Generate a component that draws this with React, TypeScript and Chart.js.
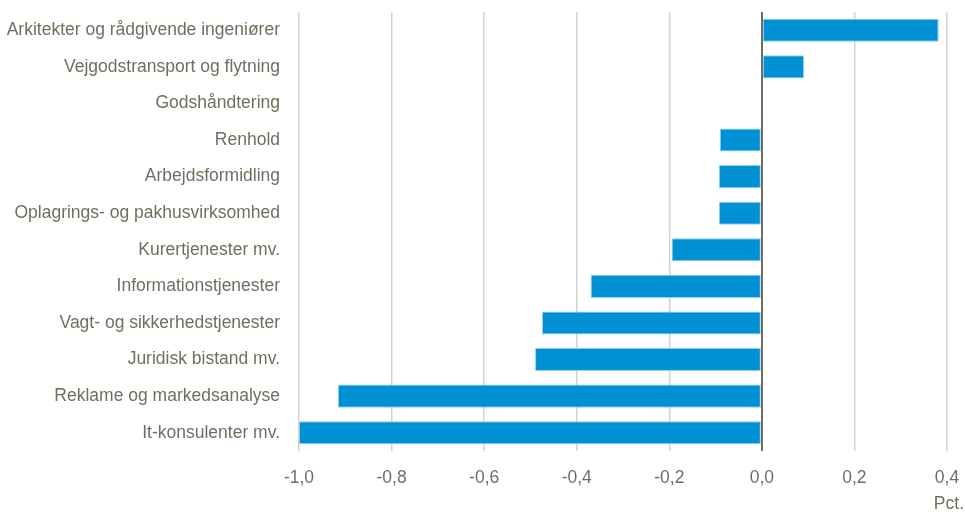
import React, { useEffect, useRef } from "react";
import { Chart, registerables } from "chart.js";

Chart.register(...registerables);

const categories: string[] = [
  "Arkitekter og rådgivende ingeniører",
  "Vejgodstransport og flytning",
  "Godshåndtering",
  "Renhold",
  "Arbejdsformidling",
  "Oplagrings- og pakhusvirksomhed",
  "Kurertjenester mv.",
  "Informationstjenester",
  "Vagt- og sikkerhedstjenester",
  "Juridisk bistand mv.",
  "Reklame og markedsanalyse",
  "It-konsulenter mv.",
];

const values: number[] = [0.382, 0.091, 0, -0.091, -0.093, -0.093, -0.195, -0.37, -0.475, -0.49, -0.916, -1.0];

const xTicks: number[] = [-1.0, -0.8, -0.6, -0.4, -0.2, 0.0, 0.2, 0.4];
const unitLabel = "Pct.";

const TEXT = "#6f6f60";
const FONT = "'Liberation Sans', Arial, sans-serif";

export default function App() {
  const ref = useRef<HTMLCanvasElement | null>(null);

  useEffect(() => {
    const canvas = ref.current;
    if (!canvas) return;

    const unitPlugin = {
      id: "unitLabel",
      afterDraw(chart: any) {
        const ctx = chart.ctx;
        ctx.save();
        ctx.font = `17.5px ${FONT}`;
        ctx.fillStyle = TEXT;
        ctx.textAlign = "right";
        ctx.textBaseline = "middle";
        ctx.fillText(unitLabel, 964, 504);
        ctx.restore();
      },
    };

    const chart = new Chart(canvas, {
      type: "bar",
      data: {
        labels: categories,
        datasets: [
          {
            data: values,
            backgroundColor: "#0091d5",
            borderColor: "#8fd0f0",
            borderWidth: 1,
            borderSkipped: false,
            barPercentage: 0.63,
            categoryPercentage: 1,
          },
        ],
      },
      options: {
        indexAxis: "y",
        animation: false,
        responsive: false,
        maintainAspectRatio: false,
        layout: { padding: { top: 12, right: 18, left: 0, bottom: 0 } },
        plugins: {
          legend: { display: false },
          tooltip: { enabled: false },
        },
        scales: {
          x: {
            type: "linear",
            min: -1.0,
            max: 0.4,
            afterBuildTicks: (scale: any) => {
              scale.ticks = xTicks.map((v) => ({ value: v }));
            },
            afterFit: (scale: any) => {
              scale.height = 61;
              scale.paddingLeft = 0;
              scale.paddingRight = 0;
            },
            border: { display: false },
            grid: {
              drawTicks: false,
              color: (ctx: any) => (ctx.tick && ctx.tick.value === 0 ? "#6e6e5e" : "#d3d3cb"),
              lineWidth: (ctx: any) => (ctx.tick && ctx.tick.value === 0 ? 2 : 1.5),
            },
            ticks: {
              padding: 17,
              color: TEXT,
              font: { family: FONT, size: 17.5 },
              callback: (v: any) => Number(v).toFixed(1).replace(".", ","),
            },
          },
          y: {
            afterFit: (scale: any) => {
              scale.width = 299;
              scale.paddingTop = 0;
              scale.paddingBottom = 0;
            },
            border: { display: false },
            grid: { display: false, drawTicks: false },
            ticks: {
              padding: 19,
              color: TEXT,
              font: { family: FONT, size: 17.5 },
            },
          },
        },
      },
      plugins: [unitPlugin],
    });

    return () => chart.destroy();
  }, []);

  return (
    <div style={{ position: "fixed", left: 0, top: 0, width: 965, height: 512, background: "#fff" }}>
      <canvas ref={ref} width={965} height={512} style={{ display: "block" }} />
    </div>
  );
}
